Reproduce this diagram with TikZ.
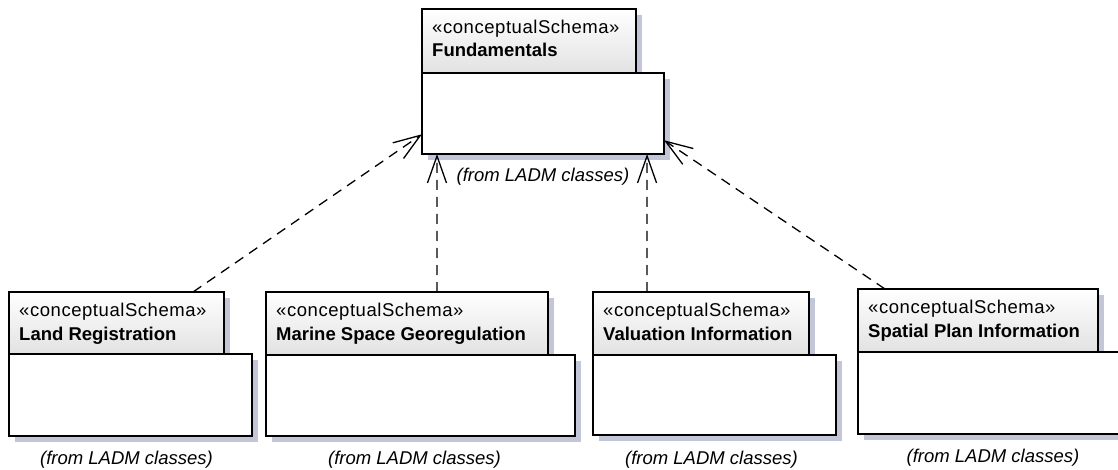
\documentclass[tikz,border=0pt]{standalone}
\usepackage{fontspec}
\setmainfont{Liberation Sans}
\usetikzlibrary{arrows.meta,calc,shadows}
\definecolor{shadowc}{HTML}{C2C6D6}
\definecolor{tabbot}{HTML}{E2E2E2}
\begin{document}
\begin{tikzpicture}[x=1pt,y=-1pt,
  pshadow/.style={drop shadow={shadow xshift=6pt, shadow yshift=-6pt, fill=shadowc, opacity=1}},
  tabbox/.style={draw, line width=1.3pt, inner sep=0pt, outer sep=0pt, anchor=north west,
    top color=white, bottom color=tabbot, pshadow},
  bodybox/.style={draw, line width=1.3pt, fill=white, inner sep=0pt, outer sep=0pt, anchor=north west, pshadow},
  stereo/.style={anchor=base west, inner sep=0pt, font=\fontsize{18.5}{22}\selectfont\addfontfeatures{LetterSpace=3}},
  pname/.style={anchor=base west, inner sep=0pt, font=\fontsize{18.5}{22}\selectfont\bfseries},
  fromlbl/.style={anchor=base, inner sep=0pt, font=\fontsize{18.5}{22}\selectfont\itshape},
  dep/.style={line width=1.3pt, dash pattern=on 10pt off 7pt,
    -{Straight Barb[length=27pt,width=19pt,line width=1.3pt]}}
]
\useasboundingbox (0,0) rectangle (1118,470);
\clip (0,0) rectangle (1118,470);

% Fundamentals
\node[tabbox, minimum width=214pt, minimum height=64pt] (ftab) at (422,9) {};
\node[bodybox, minimum width=242pt, minimum height=81pt] (fbody) at (422,73) {};
\node[stereo] (fst) at ($(ftab.north west)+(10,25)$) {«conceptualSchema»};
\node[pname] (fnm) at ($(ftab.north west)+(10,48)$) {Fundamentals};
\node[fromlbl] (flb) at ($(fbody.south)+(0,28)$) {(from LADM classes)};

% Land Registration
\node[tabbox, minimum width=215pt, minimum height=62pt] (ltab) at (9,292) {};
\node[bodybox, minimum width=243pt, minimum height=82pt] (lbody) at (9,354) {};
\node[stereo] (lst) at ($(ltab.north west)+(10,24)$) {«conceptualSchema»};
\node[pname] (lnm) at ($(ltab.north west)+(10,48)$) {Land Registration};
\node[fromlbl] (llb) at ($(lbody.south)+(-4,28)$) {(from LADM classes)};

% Marine Space Georegulation
\node[tabbox, minimum width=282pt, minimum height=63pt] (mtab) at (266,292) {};
\node[bodybox, minimum width=309pt, minimum height=81pt] (mbody) at (266,355) {};
\node[stereo] (mst) at ($(mtab.north west)+(10,24)$) {«conceptualSchema»};
\node[pname] (mnm) at ($(mtab.north west)+(10,48)$) {Marine Space Georegulation};
\node[fromlbl] (mlb) at ($(mbody.south)+(-6,28)$) {(from LADM classes)};

% Valuation Information
\node[tabbox, minimum width=216pt, minimum height=63pt] (vtab) at (593,292) {};
\node[bodybox, minimum width=243pt, minimum height=80pt] (vbody) at (593,355) {};
\node[stereo] (vst) at ($(vtab.north west)+(10,24)$) {«conceptualSchema»};
\node[pname] (vnm) at ($(vtab.north west)+(10,48)$) {Valuation Information};
\node[fromlbl] (vlb) at ($(vbody.south)+(-3,29)$) {(from LADM classes)};

% Spatial Plan Information
\node[tabbox, minimum width=240pt, minimum height=63pt] (stab) at (858,289) {};
\node[bodybox, minimum width=270pt, minimum height=82pt] (sbody) at (858,352) {};
\node[stereo] (sst) at ($(stab.north west)+(10,24)$) {«conceptualSchema»};
\node[pname] (snm) at ($(stab.north west)+(10,48)$) {Spatial Plan Information};
\node[fromlbl] (slb) at ($(sbody.south)+(0,28)$) {(from LADM classes)};

% dependencies
\draw[dep] ($(ltab.north west)!0.856!(ltab.north east)$) -- ($(fbody.north west)!0.756!(fbody.south west)$);
\draw[dep] ($(mtab.north west)!0.606!(mtab.north east)$) -- ($(fbody.south west)!0.062!(fbody.south east)$);
\draw[dep] ($(vtab.north west)!0.25!(vtab.north east)$) -- ($(fbody.south west)!0.93!(fbody.south east)$);
\draw[dep] ($(stab.north west)!0.1125!(stab.north east)$) -- ($(fbody.north east)!0.83!(fbody.south east)$);
\end{tikzpicture}
\end{document}
